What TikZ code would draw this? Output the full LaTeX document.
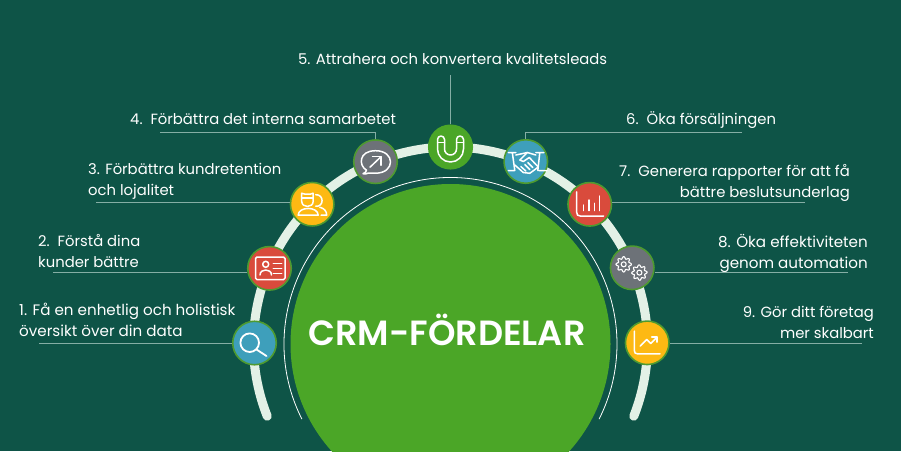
\documentclass[tikz,border=0pt]{standalone}
\usepackage{fontspec}
\setmainfont{Poppins}
\newfontfamily\lblfont{Poppins}
\newfontfamily\ttlfont{Poppins}[UprightFont=* SemiBold]
\definecolor{bgc}{HTML}{0E5447}
\definecolor{bigc}{HTML}{4BA627}
\definecolor{ringc}{HTML}{E3F1E6}
\definecolor{edgec}{HTML}{4E9A30}
\definecolor{linec}{HTML}{85AEA5}
\definecolor{bluec}{HTML}{3E9FBB}
\definecolor{redc}{HTML}{D94B3C}
\definecolor{yelc}{HTML}{FDB913}
\definecolor{grayc}{HTML}{6D7278}
\tikzset{
  badge/.style={circle,draw=edgec,line width=1.6pt,minimum size=43.5pt,inner sep=0pt},
  lbl/.style={font=\lblfont\fontsize{14.8}{20.5}\selectfont,text=white,inner sep=0pt},
  lblwide/.style={font=\lblfont\fontsize{15.15}{20.5}\selectfont},
  lblL/.style={lbl,align=left,anchor=base west},
  lblR/.style={lbl,align=right,anchor=base east},
  leader/.style={draw=linec,line width=0.8pt},
  ico/.style={draw=white,line width=1.5pt,line cap=round,line join=round},
}
\begin{document}
\begin{tikzpicture}[x=1pt,y=-1pt]
\useasboundingbox (0,0) rectangle (901,451);
\fill[bgc] (0,0) rectangle (901,451);
\coordinate (ctr) at (450.5,344);
% ring
\begin{scope}[shift={(ctr)}]
\draw[ringc,line width=9pt,line cap=round] (158.5:197) arc[start angle=158.5,end angle=381.5,radius=197];
\draw[white,line width=0.8pt] (153.2:166.5) arc[start angle=153.2,end angle=386.8,radius=166.5];
\end{scope}
\fill[bigc] (ctr) circle[radius=160];
\node[font=\ttlfont\fontsize{35}{35}\selectfont,text=white,inner sep=0pt,anchor=base] (title) at (447,345.5) {CRM-FÖRDELAR};
% badges
\node[badge,fill=bluec] (n1) at (254.5,343) {};
\node[badge,fill=redc] (n2) at (269.5,268.3) {};
\node[badge,fill=yelc] (n3) at (312.2,204.2) {};
\node[badge,fill=grayc] (n4) at (375.5,161.7) {};
\node[badge,fill=bigc,draw=bigc] (n5) at (450.5,147) {};
\node[badge,fill=bluec] (n6) at (525.8,161.5) {};
\node[badge,fill=redc] (n7) at (589.7,204.3) {};
\node[badge,fill=grayc] (n8) at (632.2,267.8) {};
\node[badge,fill=yelc] (n9) at (647.2,342.8) {};
% labels
\node[lblL,lblwide] (t1) at (19,336) {1. Få en enhetlig och holistisk\\översikt över din data};
\node[lblL] (t2) at (38,267) {2.\ \ Förstå dina\\kunder bättre};
\node[lblL] (t3) at (88,195) {3. Förbättra kundretention\\och lojalitet};
\node[lblL] (t4) at (130,124) {4.\ \ Förbättra det interna samarbetet};
\node[lblL] (t5) at (298,64) {5. Attrahera och konvertera kvalitetsleads};
\node[lblL] (t6) at (626,124) {6.\ \ Öka försäljningen};
\node[lblR] (t7) at (850,197) {7.\ \ Generera rapporter för att få\\bättre beslutsunderlag};
\node[lblR,lblwide] (t8) at (868,268) {8. Öka effektiviteten\\genom automation};
\node[lblR] (t9) at (874,338) {9. Gör ditt företag\\mer skalbart};
% leaders
\coordinate (s1) at (39,343);
\coordinate (s2) at (53,272.7);
\coordinate (s3) at (96,202.3);
\coordinate (s4) at (160,132.3);
\coordinate (s5) at (450.5,75);
\coordinate (s6) at (742,132.3);
\coordinate (s7) at (805,202.3);
\coordinate (s8) at (848,272.7);
\coordinate (s9) at (862,343);
\draw[leader] (s1) -- (n1.west |- s1);
\draw[leader] (s2) -- (n2.west |- s2);
\draw[leader] (s3) -- (n3.west |- s3);
\draw[leader] (s4) -| (n4.north);
\draw[leader] (s5) -- (n5.north);
\draw[leader] (s6) -| (n6.north);
\draw[leader] (s7) -- (n7.east |- s7);
\draw[leader] (s8) -- (n8.east |- s8);
\draw[leader] (s9) -- (n9.east |- s9);
% icon 1: magnifier
\begin{scope}[shift={(n1.center)},ico,line width=1.8pt]
\draw (-4.8,-0.3) circle[radius=9.3];
\draw (2,6.5) -- (12,13);
\end{scope}
% icon 2: id card
\begin{scope}[shift={(n2.center)},ico]
\draw[rounded corners=1.5pt] (-14,-11.3) rectangle (15.5,11.3);
\draw (-3.8,-4) circle[radius=3];
\draw (-9.5,6.7) .. controls (-9.5,0) and (2,0) .. (2,6.7);
\draw (3.8,-5) -- (12.2,-5) (3.8,0) -- (12.2,0) (3.8,5) -- (12.2,5);
\end{scope}
% icon 3: users
\begin{scope}[shift={(n3.center)},ico]
\draw (-10.5,-11) -- (-7,-10) -- (-2,-10) -- (1,-11) -- (1,-3) .. controls (1,4) and (-10.5,4) .. (-10.5,-3) -- cycle;
\draw (-10.5,-6) -- (1,-6);
\draw (3.5,-9.5) .. controls (12,-10) and (12,3) .. (3.5,2);
\draw (-14,11) .. controls (-14,2) and (6,2) .. (6,11) -- cycle;
\draw (7.5,3) .. controls (12,4) and (14.5,7) .. (14.5,11) -- (9,11);
\end{scope}
% icon 4: chat
\begin{scope}[shift={(n4.center)},ico]
\draw (-9,8.5) .. controls (-17,4) and (-17,-11) .. (0,-11) .. controls (20,-11) and (20,11.5) .. (0,11.5) .. controls (-3,11.5) and (-5,11.5) .. (-7,11.3) .. controls (-9,12.5) and (-11,12.5) .. (-12.5,12) .. controls (-10.5,11.5) and (-9.5,10) .. (-9,8.5) -- cycle;
\draw (-5.5,5.5) -- (5.5,-5);
\draw (-3,-5) -- (5.5,-5) -- (5.5,3.5);
\end{scope}
% icon 5: magnet
\begin{scope}[shift={(n5.center)},ico]
\draw (-13,-7.5) arc[start angle=180,end angle=360,radius=3.5] -- (-6,2) arc[start angle=180,end angle=0,radius=6] -- (6,-7.5) arc[start angle=180,end angle=360,radius=3.5] -- (13,2) arc[start angle=0,end angle=180,radius=13] -- cycle;
\draw (-13,-4.5) -- (-6,-4.5) (6,-4.5) -- (13,-4.5);
\end{scope}
% icon 6: handshake
\begin{scope}[shift={(n6.center)},ico]
\draw (-17.5,-9) -- (-10,-9) (-13.5,-9) -- (-11,9) (-17.5,9) -- (-11.5,9);
\draw (10,-9) -- (18,-9) (14,-9) -- (12,9) (13,9) -- (21,9);
\draw (-10,-6.5) -- (-3,-8) -- (1.5,-9) -- (10,-6.5);
\draw (1.5,-9) -- (-6,-1.5) -- (-2.5,0) -- (3.5,-4) -- (12.5,5.5);
\draw (-11,3.5) -- (-2.5,11) -- (4,11.8) -- (12.5,5.5);
\draw (-5,5) -- (0,9.5) (-1,3) -- (4,8) (2,1) -- (7,6);
\end{scope}
% icon 7: bars
\begin{scope}[shift={(n7.center)},ico]
\draw (-13,-12.5) -- (-13,8) .. controls (-13,10.5) and (-12,11.7) .. (-9.5,11.7) -- (14,11.7);
\draw (-6.3,0.7) -- (-6.3,6.3) (-0.7,-4.3) -- (-0.7,6.3) (4.7,-1) -- (4.7,6.3) (10,-8.3) -- (10,6.3);
\end{scope}
% icon 8: gears
\begin{scope}[shift={(n8.center)},ico,line width=1.1pt]
\draw[domain=0:360,samples=97,smooth,variable=\t,shift={(-8.5,-3.5)}] plot ({(6.6+1.1*cos(8*\t))*cos(\t)},{(6.6+1.1*cos(8*\t))*sin(\t)}) -- cycle;
\draw (-8.5,-3.5) circle[radius=2.5];
\draw[domain=0:360,samples=97,smooth,variable=\t,shift={(7.2,4.8)}] plot ({(6.6+1.1*cos(8*\t+20))*cos(\t)},{(6.6+1.1*cos(8*\t+20))*sin(\t)}) -- cycle;
\draw (7.2,4.8) circle[radius=2.5];
\end{scope}
% icon 9: growth
\begin{scope}[shift={(n9.center)},ico]
\draw (-12.8,-11.7) -- (-12.8,8) .. controls (-12.8,10) and (-11.8,11) .. (-9.8,11) -- (12.8,11);
\draw (-7,3.3) -- (-0.5,-3.3) -- (3.5,0.7) -- (10,-5.7);
\draw (4.5,-6) -- (10,-6) -- (10,-0.7);
\end{scope}
\end{tikzpicture}
\end{document}
